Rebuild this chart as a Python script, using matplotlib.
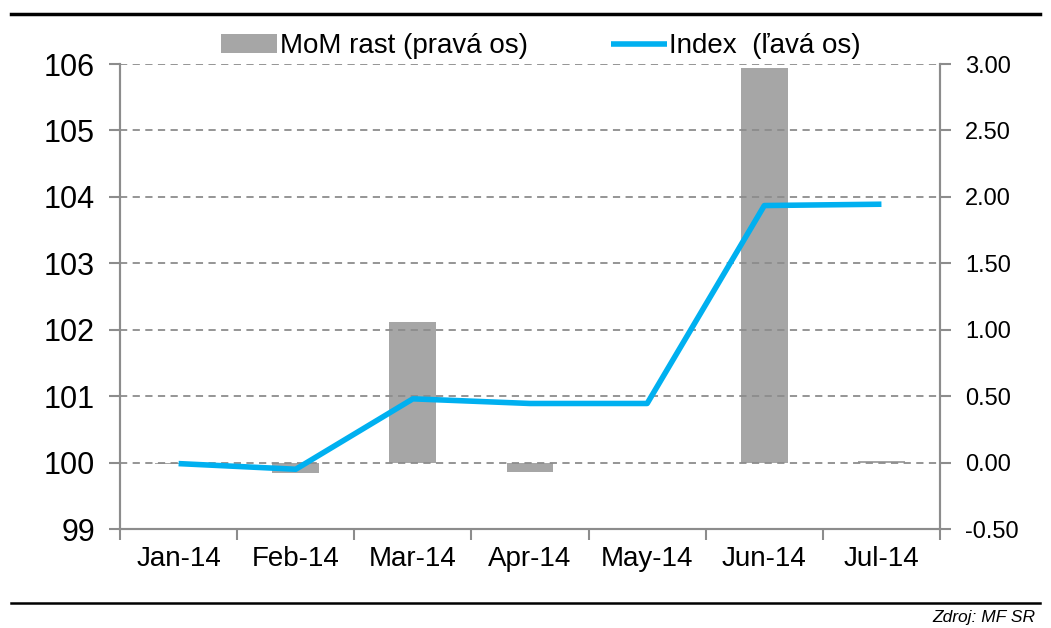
import matplotlib.pyplot as plt
import numpy as np

plt.rcParams['font.family'] = ['Liberation Sans', 'DejaVu Sans']

months = ['Jan-14', 'Feb-14', 'Mar-14', 'Apr-14', 'May-14', 'Jun-14', 'Jul-14']
index_vals = [99.985, 99.90, 100.96, 100.89, 100.89, 103.87, 103.89]
mom_vals = [-0.01, -0.08, 1.06, -0.07, 0.0, 2.97, 0.01]

bar_color = '#A6A6A6'
line_color = '#00B0F0'
grid_color = '#8C8C8C'

fig = plt.figure(figsize=(10.51, 6.28), dpi=100)
ax = fig.add_axes([0.1142, 0.1576, 0.7802, 0.7404])
ax2 = ax.twinx()

x = np.arange(len(months))

# bars on the right axis, line on the left axis (drawn on top)
ax2.bar(x, mom_vals, width=0.4, color=bar_color, zorder=2, label='MoM rast (pravá os)')
ax2.set_ylim(-0.5, 3.0)
ax2.set_yticks(np.arange(-0.5, 3.01, 0.5))
ax2.set_yticklabels([f'{v:.2f}' for v in np.arange(-0.5, 3.01, 0.5)])

ax.set_zorder(ax2.get_zorder() + 1)
ax.patch.set_visible(False)
ax.plot(x, index_vals, color=line_color, lw=4, zorder=3, label='Index  (ľavá os)',
        solid_capstyle='butt')
ax.set_ylim(99, 106)
ax.set_yticks(range(99, 107))
ax.set_xlim(-0.5, 6.5)
ax.set_xticks(x)
ax.set_xticklabels(months)
ax.set_xticks(np.arange(-0.5, 6.6, 1), minor=True)
ax.tick_params(axis='x', which='major', length=0, pad=12, labelsize=20)
ax.tick_params(axis='x', which='minor', length=8, width=1.5, color=grid_color, direction='out')
ax.tick_params(axis='y', length=8, width=1.5, color=grid_color, labelsize=22, pad=10)
ax2.tick_params(axis='y', length=8, width=1.5, color=grid_color, labelsize=17, pad=10)

for a in (ax, ax2):
    a.spines['top'].set_visible(False)
    for side in ('left', 'right', 'bottom'):
        a.spines[side].set_color(grid_color)
        a.spines[side].set_linewidth(1.5)

ax.yaxis.grid(True, linestyle=(0, (4, 3)), color=grid_color, lw=1.3)
ax2.yaxis.grid(False)

h1, l1 = ax2.get_legend_handles_labels()
h2, l2 = ax.get_legend_handles_labels()
fig.legend(h1 + h2, l1 + l2, loc='center', bbox_to_anchor=(0.515, 0.926), ncol=2,
           frameon=False, fontsize=20, handlelength=2.0, handletextpad=0.1,
           columnspacing=3.0)

# frame lines and source note
fig.add_artist(plt.Line2D([0.01, 0.99], [0.977, 0.977], color='black', lw=2.5))
fig.add_artist(plt.Line2D([0.01, 0.99], [0.04, 0.04], color='black', lw=1.8))
fig.text(0.985, 0.017, 'Zdroj: MF SR', ha='right', va='center', fontsize=12.5, style='italic')

fig.savefig('out.png', dpi=100)
